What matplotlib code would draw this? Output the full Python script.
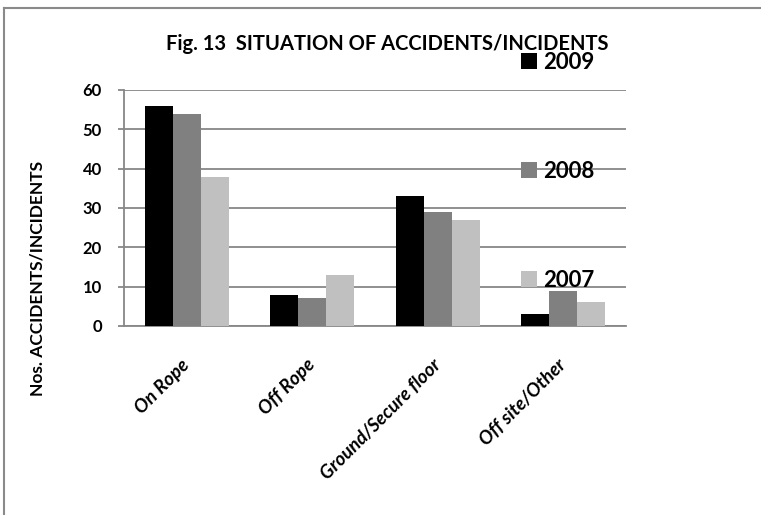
import numpy as np
import matplotlib
matplotlib.use("Agg")
import matplotlib.pyplot as plt
from matplotlib.lines import Line2D

plt.rcParams['font.family'] = ['Lato', 'DejaVu Sans']

# data
categories = ["On Rope", "Off Rope", "Ground/Secure floor", "Off site/Other"]
years = ["2009", "2008", "2007"]
counts_2009 = [56, 8, 33, 3]
counts_2008 = [54, 7, 29, 9]
counts_2007 = [38, 13, 27, 6]
bar_colors = ["#000000", "#808080", "#c0c0c0"]

W, H = 761, 515
fig = plt.figure(figsize=(W / 100, H / 100), dpi=100)
ax = fig.add_axes([124 / W, 1 - 326 / H, 502 / W, 236 / H])

x = np.arange(len(categories))
width = 0.222
series = [counts_2009, counts_2008, counts_2007]
for i, (yr, vals) in enumerate(zip(years, series)):
    ax.bar(x + (i - 1) * width, vals, width, color=bar_colors[i], label=yr, zorder=3)

ax.set_xlim(-0.5, len(categories) - 0.5)
ax.set_ylim(0, 60)
ax.set_yticks(range(0, 61, 10))
ax.yaxis.grid(True, color="#878787", lw=1.3, zorder=0)
ax.set_axisbelow(True)

for s in ["top", "right"]:
    ax.spines[s].set_visible(False)
for s in ["left", "bottom"]:
    ax.spines[s].set_color("#878787")
    ax.spines[s].set_linewidth(1.3)

ax.tick_params(axis="y", length=4, color="#878787", width=1.3, pad=12,
               labelsize=12)
for t in ax.get_yticklabels():
    t.set_fontweight("bold")

ax.set_xticks(x)
ax.set_xticklabels(categories, rotation=45, ha="right", va="center",
                   rotation_mode="anchor", fontsize=13.5, fontweight="bold",
                   fontstyle="italic")
ax.tick_params(axis="x", length=0, pad=26)

fig.text(387 / W, 1 - 50 / H, "Fig. 13  SITUATION OF ACCIDENTS/INCIDENTS",
         ha="center", va="baseline", fontsize=14.5, fontweight="bold")
fig.text(38 / W, 1 - 278 / H, "Nos. ACCIDENTS/INCIDENTS", rotation=90,
         ha="center", va="center", fontsize=12.5, fontweight="bold")

leg = ax.legend(loc="upper left", bbox_to_anchor=(521 / W, 1 - 52 / H),
                bbox_transform=fig.transFigure, frameon=False,
                prop={"weight": "bold", "size": 16}, labelspacing=3.95,
                handlelength=0.7, handleheight=0.7, handletextpad=0.3,
                borderpad=0, borderaxespad=0)
for t in leg.get_texts():
    t.set_fontweight("bold")

# outer chart frame (only top and left edges visible)
fig.add_artist(Line2D([4 / W, 1], [1 - 8 / H, 1 - 8 / H], color="#8a8a8a", lw=1.5))
fig.add_artist(Line2D([4 / W, 4 / W], [0, 1 - 8 / H], color="#8a8a8a", lw=1.5))

fig.savefig("out.png", dpi=100)
